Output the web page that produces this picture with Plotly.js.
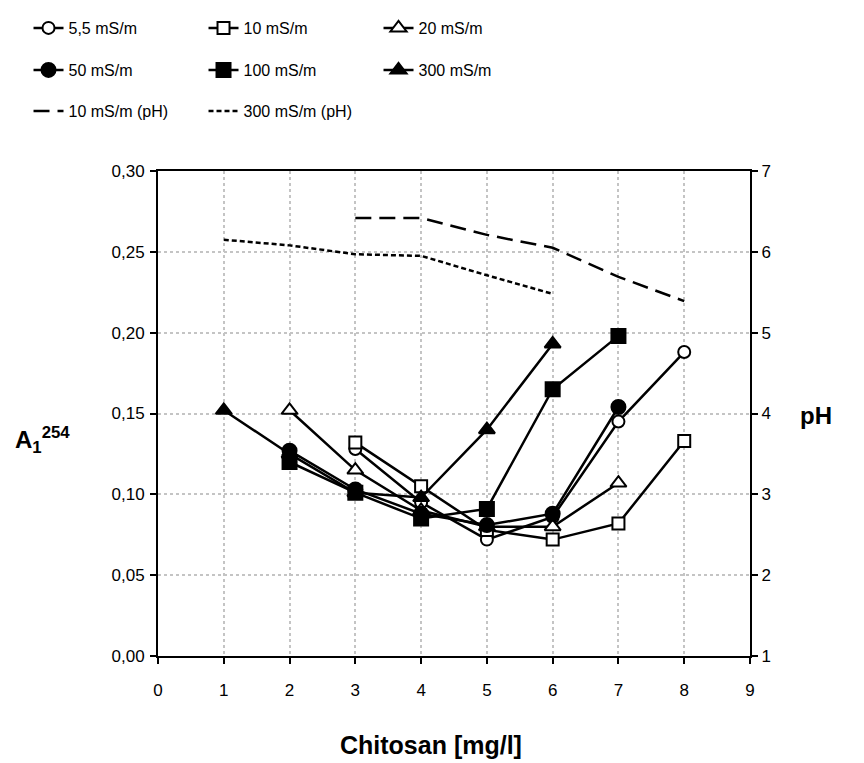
<!DOCTYPE html>
<html>
<head>
<meta charset="utf-8">
<script src="https://cdn.plot.ly/plotly-3.0.1.min.js"></script>
<style>html,body{margin:0;padding:0;background:#fff;}#chart{width:864px;height:763px;}</style>
</head>
<body>
<div id="chart"></div>
<script>
// Chitosan dose [mg/l]
const chitosan = [1, 2, 3, 4, 5, 6, 7, 8];
// A1^254 per conductivity
const a_5_5 = [null, null, 0.128, 0.095, 0.072, 0.086, 0.145, 0.188];
const a_10  = [null, null, 0.132, 0.105, 0.078, 0.072, 0.082, 0.133];
const a_20  = [null, 0.152, 0.115, 0.090, 0.080, 0.080, 0.107, null];
const a_50  = [null, 0.127, 0.103, 0.088, 0.081, 0.088, 0.154, null];
const a_100 = [null, 0.120, 0.101, 0.085, 0.091, 0.165, 0.198, null];
const a_300 = [0.152, 0.125, 0.101, 0.098, 0.140, 0.193, null, null];
// pH
const ph_10  = [null, null, 6.42, 6.42, 6.21, 6.05, 5.69, 5.39];
const ph_300 = [6.15, 6.08, 5.97, 5.95, 5.71, 5.48, null, null];

const names = ['5,5 mS/m', '10 mS/m', '20 mS/m', '50 mS/m', '100 mS/m', '300 mS/m', '10 mS/m (pH)', '300 mS/m (pH)'];

function mk(y, name, symbol, filled, size, legend) {
  return {
    x: chitosan, y: y, name: name, type: 'scatter', mode: 'lines+markers',
    legend: legend,
    line: {color: '#000', width: 2.5},
    marker: {symbol: symbol, size: size, color: filled ? '#000' : '#fff', line: {color: '#000', width: 2}},
    connectgaps: false
  };
}

const traces = [
  mk(a_5_5, names[0], 'circle', false, 12, 'legend'),
  mk(a_10, names[1], 'square', false, 12, 'legend'),
  mk(a_20, names[2], 'triangle-up', false, 14, 'legend'),
  mk(a_50, names[3], 'circle', true, 14, 'legend2'),
  mk(a_100, names[4], 'square', true, 14, 'legend2'),
  mk(a_300, names[5], 'triangle-up', true, 14, 'legend2'),
  {x: chitosan, y: ph_10, name: names[6], type: 'scatter', mode: 'lines', yaxis: 'y2', legend: 'legend3',
   line: {color: '#000', width: 2.5, dash: '16px,8px'}},
  {x: chitosan, y: ph_300, name: names[7], type: 'scatter', mode: 'lines', yaxis: 'y2', legend: 'legend3',
   line: {color: '#000', width: 2.5, dash: '5px,3px'}}
];

const fontFam = '"Liberation Sans", Arial, sans-serif';
const legBase = {
  orientation: 'h', xref: 'container', yref: 'container', x: 0.033, xanchor: 'left', yanchor: 'middle',
  entrywidth: 130, entrywidthmode: 'pixels', font: {family: fontFam, size: 16, color: '#000'},
  bgcolor: 'rgba(0,0,0,0)', traceorder: 'normal', itemwidth: 30
};
const gridCol = '#c4c4c4';

const layout = {
  width: 864, height: 763,
  margin: {l: 158, r: 114, t: 171, b: 107},
  paper_bgcolor: '#fff', plot_bgcolor: '#fff',
  separators: ', ',
  font: {family: fontFam, size: 16, color: '#000'},
  showlegend: true,
  legend: Object.assign({}, legBase, {y: 1 - 28 / 763}),
  legend2: Object.assign({}, legBase, {y: 1 - 70 / 763}),
  legend3: Object.assign({}, legBase, {y: 1 - 111 / 763}),
  xaxis: {
    range: [0, 9], dtick: 1, tick0: 0, showgrid: true, gridcolor: gridCol, griddash: 'dot', gridwidth: 2,
    zeroline: false, showline: true, linecolor: '#000', linewidth: 2, mirror: true,
    ticks: 'outside', ticklen: 6, tickwidth: 2, tickcolor: '#000', ticklabelstandoff: 12,
    tickfont: {family: fontFam, size: 17}
  },
  yaxis: {
    range: [0, 0.30], dtick: 0.05, tick0: 0, tickformat: '.2f', showgrid: true, gridcolor: gridCol, griddash: 'dot', gridwidth: 2,
    zeroline: false, showline: true, linecolor: '#000', linewidth: 2,
    ticks: 'outside', ticklen: 6, tickwidth: 2, tickcolor: '#000', ticklabelstandoff: 2,
    tickfont: {family: fontFam, size: 17}
  },
  yaxis2: {
    overlaying: 'y', side: 'right', range: [1, 7], dtick: 1, tick0: 1, showgrid: false,
    zeroline: false, showline: true, linecolor: '#000', linewidth: 2,
    ticks: 'outside', ticklen: 6, tickwidth: 2, tickcolor: '#000',
    tickfont: {family: fontFam, size: 17}
  },
  annotations: [
    {text: '<b>A<sub>1</sub><sup>254</sup></b>', xref: 'paper', yref: 'paper', x: -0.245, y: 0.445, xanchor: 'left', yanchor: 'middle',
     showarrow: false, font: {family: fontFam, size: 24, color: '#000'}},
    {text: '<b>pH</b>', xref: 'paper', yref: 'paper', x: (816 - 158) / 592, y: 0.495, xanchor: 'center', yanchor: 'middle',
     showarrow: false, font: {family: fontFam, size: 24, color: '#000'}},
    {text: '<b>Chitosan [mg/l]</b>', xref: 'paper', yref: 'paper', x: (431 - 158) / 592, y: -0.183, xanchor: 'center', yanchor: 'middle',
     showarrow: false, font: {family: fontFam, size: 25, color: '#000'}}
  ]
};

Plotly.newPlot('chart', traces, layout, {displayModeBar: false, staticPlot: true});
</script>
</body>
</html>
